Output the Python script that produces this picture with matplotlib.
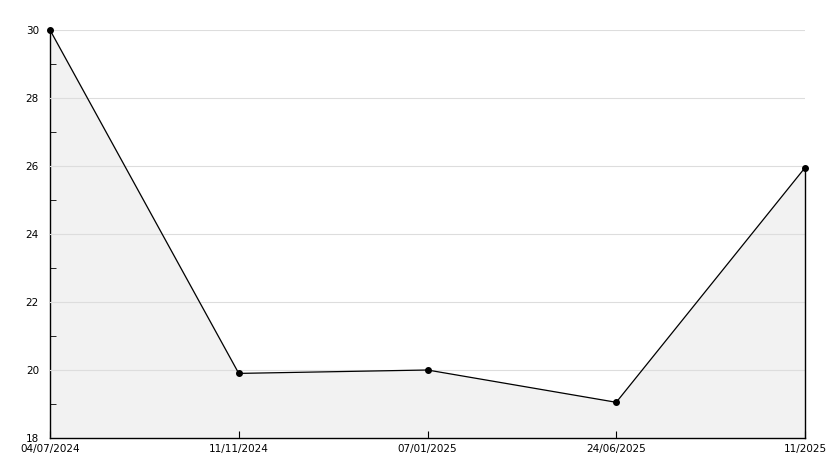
import matplotlib
matplotlib.use("Agg")
import matplotlib.pyplot as plt
from matplotlib.ticker import MultipleLocator

# datos
fechas = ['04/07/2024', '11/11/2024', '07/01/2025', '24/06/2025', '11/2025']
valores = [30.0, 19.9, 20.0, 19.05, 25.95]

fig = plt.figure(figsize=(8.34, 4.68), dpi=100)
ax = fig.add_axes([50 / 834, 30 / 468, 755 / 834, 408 / 468])

x = list(range(len(fechas)))
ax.fill_between(x, valores, 18, color='#f2f2f2', zorder=1)
ax.plot([x[-1], x[-1]], [18, valores[-1]], color='black', lw=1, zorder=3, clip_on=False)
ax.plot(x, valores, color='black', lw=0.9, marker='o', markersize=4, zorder=4, clip_on=False)

ax.set_xlim(0, len(fechas) - 1)
ax.set_ylim(18, 30)
ax.set_xticks(x)
ax.set_xticklabels(fechas)
ax.yaxis.set_major_locator(MultipleLocator(2))
ax.yaxis.set_minor_locator(MultipleLocator(1))

ax.set_axisbelow(False)
ax.grid(axis='y', color='#dddddd', lw=0.8)

for lado in ['top', 'right']:
    ax.spines[lado].set_visible(False)
ax.spines['left'].set_linewidth(1)
ax.spines['bottom'].set_linewidth(1)

ax.tick_params(axis='y', which='major', length=0, labelsize=7.5, pad=8)
ax.tick_params(axis='y', which='minor', direction='in', length=4)
ax.tick_params(axis='x', direction='in', length=5, labelsize=7.5, pad=4)

plt.savefig('out.png', dpi=100)
plt.close()
